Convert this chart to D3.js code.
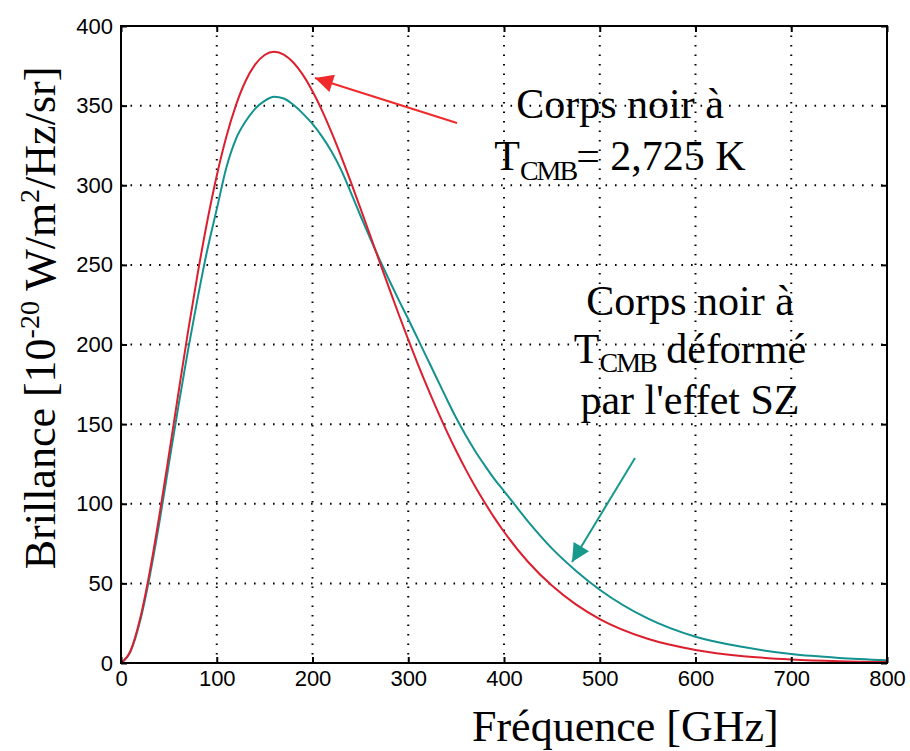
<!doctype html>
<html lang="fr">
<head>
    <meta charset="utf-8">
    <title>Corps noir CMB</title>
    <script src="https://d3js.org/d3.v7.min.js"></script>
    <style type="text/css">
        body { margin: 0; background: #fff; }
        .tick text { font-family: "Liberation Sans", Arial, sans-serif; font-size: 22px; fill: #000; }
    </style>
</head>

<body>
</body>

<script type="text/javascript">

    var width  = 910;
    var height = 751;
    var margin = {top: 26, right: 23, bottom: 88, left: 121};
    var serif = "'Liberation Serif', 'DejaVu Serif', 'Times New Roman', serif";

    // frequence en GHz
    var freq = [0,10,20,30,40,50,60,70,80,90,100,110,120,130,140,150,160,170,180,190,200,
                210,220,230,240,250,260,270,280,290,300,310,320,330,340,350,360,370,380,390,400,
                425,450,475,500,550,600,650,700,750,800];
    // corps noir a T = 2,725 K (rouge)
    var corpsNoir = [0,7.7,27.9,57.2,92.3,130.5,169.7,208.1,244.2,277.1,306.0,330.5,350.2,365.3,375.7,381.8,383.8,382.1,377.1,369.3,359.0,
                     346.9,333.0,318.0,302.1,285.6,268.9,252.0,235.4,219.0,203.1,187.7,173.1,159.1,145.8,133.3,121.6,110.7,100.6,91.1,82.4,
                     63.6,48.6,36.8,27.6,15.2,8.2,4.3,2.2,1.1,0.6];
    // corps noir deforme par l'effet SZ (vert)
    var corpsNoirSZ = [0,7.3,26.5,54.5,88,125,161.5,196.5,229,259,285,311,329,340,348,353,355.5,354.5,350.5,345,338.5,
                       330.5,321,309.5,295.5,281,267,253.5,240.5,228,216,203.5,191,178.5,166,154,143,133,124,115.5,108,
                       89,72,58,46,28,16.5,10,5.6,3.2,1.8];

    var xTicks = [0,100,200,300,400,500,600,700,800];
    var yTicks = [0,50,100,150,200,250,300,350,400];

    var w = width - margin.left - margin.right;
    var h = height - margin.top - margin.bottom;

    var svg = d3.select("body")
        .append("svg")
        .attr("width", width)
        .attr("height", height);

    var defs = svg.append("defs");
    [["headRed", "#f02a2a"], ["headTeal", "#17998c"]].forEach(function(m) {
        defs.append("marker")
            .attr("id", m[0])
            .attr("viewBox", "0 0 10 10")
            .attr("refX", 10).attr("refY", 5)
            .attr("markerUnits", "userSpaceOnUse")
            .attr("markerWidth", 24).attr("markerHeight", 18)
            .attr("orient", "auto")
            .append("path")
            .attr("d", "M0,0 L10,5 L0,10 z")
            .attr("fill", m[1]);
    });

    var g = svg.append("g").attr("transform", "translate(" + margin.left + "," + margin.top + ")");

    var x = d3.scaleLinear().domain([0, 800]).range([0, w]);
    var y = d3.scaleLinear().domain([0, 400]).range([h, 0]);

    // grille pointillee
    g.selectAll(".gx")
        .data(xTicks.slice(1, -1))
        .enter()
        .append("line")
        .attr("x1", d => x(d)).attr("x2", d => x(d))
        .attr("y1", 0).attr("y2", h)
        .attr("stroke", "#000").attr("stroke-width", 2)
        .attr("stroke-dasharray", "1.6,7.9");

    g.selectAll(".gy")
        .data(yTicks.slice(1, -1))
        .enter()
        .append("line")
        .attr("y1", d => y(d)).attr("y2", d => y(d))
        .attr("x1", 0).attr("x2", w)
        .attr("stroke", "#000").attr("stroke-width", 2)
        .attr("stroke-dasharray", "1.6,7.9");

    // courbes
    var line = d3.line()
        .x((d, i) => x(freq[i]))
        .y(d => y(d))
        .curve(d3.curveMonotoneX);

    g.append("path")
        .datum(corpsNoirSZ)
        .attr("d", line)
        .attr("fill", "none")
        .attr("stroke", "#13928f")
        .attr("stroke-width", 2);

    g.append("path")
        .datum(corpsNoir)
        .attr("d", line)
        .attr("fill", "none")
        .attr("stroke", "#dc1f2e")
        .attr("stroke-width", 2);

    // axes
    g.append("g")
        .attr("transform", "translate(0," + h + ")")
        .call(d3.axisBottom(x).tickValues(xTicks).tickSizeInner(-6).tickSizeOuter(0).tickPadding(7))
        .call(s => s.select(".domain").remove())
        .selectAll("line").attr("stroke", "#000").attr("stroke-width", 2);

    g.append("g")
        .call(d3.axisLeft(y).tickValues(yTicks).tickSizeInner(-6).tickSizeOuter(0).tickPadding(8))
        .call(s => s.select(".domain").remove())
        .selectAll("line").attr("stroke", "#000").attr("stroke-width", 2);

    g.append("g")
        .call(d3.axisTop(x).tickValues(xTicks).tickSizeInner(-6).tickSizeOuter(0).tickFormat(""))
        .call(s => s.select(".domain").remove())
        .selectAll("line").attr("stroke", "#000").attr("stroke-width", 2);

    g.append("g")
        .attr("transform", "translate(" + w + ",0)")
        .call(d3.axisRight(y).tickValues(yTicks).tickSizeInner(-6).tickSizeOuter(0).tickFormat(""))
        .call(s => s.select(".domain").remove())
        .selectAll("line").attr("stroke", "#000").attr("stroke-width", 2);

    g.append("rect")
        .attr("width", w).attr("height", h)
        .attr("fill", "none")
        .attr("stroke", "#000")
        .attr("stroke-width", 2);

    // titres des axes
    svg.append("text")
        .attr("x", 472).attr("y", 741)
        .style("font-family", serif)
        .style("font-size", "44px")
        .text("Fréquence [GHz]");

    var yl = svg.append("text")
        .attr("transform", "translate(55,318) rotate(-90)")
        .attr("text-anchor", "middle")
        .style("font-family", serif)
        .style("font-size", "44px");
    yl.append("tspan").text("Brillance [10");
    yl.append("tspan").attr("dy", -16).style("font-size", "28px").text("-20");
    yl.append("tspan").attr("dy", 16).text(" W/m");
    yl.append("tspan").attr("dy", -16).style("font-size", "28px").text("2");
    yl.append("tspan").attr("dy", 16).text("/Hz/sr]");

    // annotations
    var a1 = svg.append("g").style("font-family", serif).style("font-size", "42px");
    a1.append("text").attr("x", 620).attr("y", 118).attr("text-anchor", "middle").text("Corps noir à");
    var t1 = a1.append("text").attr("x", 620).attr("y", 170).attr("text-anchor", "middle");
    t1.append("tspan").text("T");
    t1.append("tspan").attr("dy", 10).style("font-size", "28px").style("letter-spacing", "-2px").text("CMB");
    t1.append("tspan").attr("dy", -10).text("= 2,725 K");

    var a2 = svg.append("g").style("font-family", serif).style("font-size", "42px");
    a2.append("text").attr("x", 690).attr("y", 315).attr("text-anchor", "middle").text("Corps noir à");
    var t2 = a2.append("text").attr("x", 690).attr("y", 363).attr("text-anchor", "middle");
    t2.append("tspan").text("T");
    t2.append("tspan").attr("dy", 9).style("font-size", "28px").style("letter-spacing", "-2px").text("CMB");
    t2.append("tspan").attr("dy", -9).text(" déformé");
    a2.append("text").attr("x", 690).attr("y", 414).attr("text-anchor", "middle").text("par l'effet SZ");

    // fleches
    svg.append("line")
        .attr("x1", 457).attr("y1", 123).attr("x2", 315).attr("y2", 78)
        .attr("stroke", "#f02a2a").attr("stroke-width", 2)
        .attr("marker-end", "url(#headRed)");

    svg.append("line")
        .attr("x1", 635).attr("y1", 458).attr("x2", 572).attr("y2", 562)
        .attr("stroke", "#17998c").attr("stroke-width", 2)
        .attr("marker-end", "url(#headTeal)");

</script>

</html>
